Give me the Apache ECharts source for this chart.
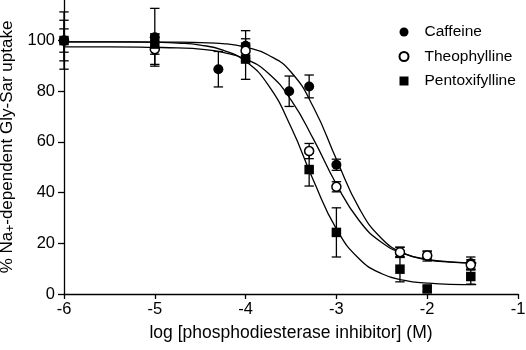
<!DOCTYPE html>
<html>
<head>
<meta charset="utf-8">
<script src="https://cdn.jsdelivr.net/npm/echarts@6/dist/echarts.min.js"></script>
<style>
  html, body { margin: 0; padding: 0; background: #fff; }
  #chart { width: 526px; height: 350px; }
</style>
</head>
<body>
<div id="chart"></div>
<script>
const FONT = '"Liberation Sans", Arial, Helvetica, sans-serif'

// measured points: [log conc, % uptake, error]
const caffeineX   = [-6, -5, -4.3, -4, -3.52, -3.3, -3, -2.3, -2, -1.52]
const caffeineY   = [100, 101.3, 88.7, 97.9, 80, 81.9, 51, 16.4, 15, 12.1]
const caffeineErr = [8, 11.4, 7, 6, 6, 4.5, 2.2, 2, 2, 2.5]

const theoX   = [-6, -5, -4, -3.3, -3, -2.3, -2, -1.52]
const theoY   = [100, 96.6, 96, 56.4, 42.3, 16.5, 15.2, 11.5]
const theoErr = [4.6, 6, 3, 3, 2, 2, 1.5, 2]

const pentoX   = [-6, -5, -4, -3.3, -3, -2.3, -2, -1.52]
const pentoY   = [100, 98.6, 92.7, 49.1, 24.3, 9.8, 2, 6.9]
const pentoErr = [11.3, 4, 8, 6.5, 9.7, 5, 1, 3]

// fitted curves
const curveX      = [-6, -5.5, -5, -4.75, -4.5, -4.25, -4, -3.75, -3.5, -3.25, -3, -2.75, -2.5, -2.25, -2, -1.75, -1.46]
const caffeineFit = [99.5, 99.5, 99.4, 99.4, 99.2, 98.8, 97.4, 94.3, 87.6, 73.5, 53.2, 33.9, 21.8, 15.9, 13.5, 12.6, 12.2]
const theoFit     = [97.5, 97.5, 97.3, 97.1, 96.6, 95.3, 92.7, 87.1, 76.6, 60.9, 43.3, 29.0, 20.3, 15.8, 13.7, 12.7, 12.3]
const pentoFit    = [99.5, 99.5, 99.3, 99.0, 98.2, 96.2, 91.8, 82.4, 65.9, 44.6, 25.7, 13.9, 8.0, 5.4, 4.3, 3.8, 3.7]

const xTicks = [-6, -5, -4, -3, -2, -1]
const yTicks = [0, 20, 40, 60, 80, 100]

const zip = (...cols) => cols[0].map((_, i) => cols.map(c => c[i]))

function errRender(params, api) {
  const x = api.value(0), y = api.value(1), e = api.value(2)
  const top = api.coord([x, y + e])
  const bot = api.coord([x, y - e])
  const w = 4.7
  const st = { stroke: '#000', lineWidth: 1.3 }
  return {
    type: 'group',
    children: [
      { type: 'line', shape: { x1: top[0], y1: top[1], x2: bot[0], y2: bot[1] }, style: st },
      { type: 'line', shape: { x1: top[0] - w, y1: top[1], x2: top[0] + w, y2: top[1] }, style: st },
      { type: 'line', shape: { x1: bot[0] - w, y1: bot[1], x2: bot[0] + w, y2: bot[1] }, style: st },
    ],
  }
}

const fitLine = (data) => ({
  type: 'line',
  data: zip(curveX, data),
  showSymbol: false,
  smooth: 0.5,
  lineStyle: { color: '#000', width: 1.3 },
  z: 1,
  silent: true,
})

const errBars = (xs, ys, es) => ({
  type: 'custom',
  data: zip(xs, ys, es),
  renderItem: errRender,
  clip: false,
  z: 2,
  silent: true,
})

const chart = echarts.init(document.getElementById('chart'), null, { renderer: 'canvas' })

chart.setOption({
  animation: false,
  backgroundColor: '#fff',
  textStyle: { fontFamily: FONT },
  grid: { left: 64, right: 8, top: 0, bottom: 56, containLabel: false, outerBoundsMode: 'none' },
  legend: {
    data: ['Caffeine', 'Theophylline', 'Pentoxifylline'],
    orient: 'vertical',
    left: 398.5,
    top: 24,
    padding: 0,
    itemWidth: 9,
    itemHeight: 9,
    itemGap: 8.5,
    textStyle: { fontFamily: FONT, fontSize: 15.5, color: '#000', padding: [0, 0, 0, 11] },
  },
  xAxis: {
    type: 'value',
    min: -6, max: -1, interval: 1,
    name: 'log [phosphodiesterase inhibitor] (M)',
    nameLocation: 'middle',
    nameGap: 30,
    nameTextStyle: { fontFamily: FONT, fontSize: 17.5, color: '#000' },
    axisLine: { onZero: false, lineStyle: { color: '#000', width: 1.3 } },
    axisTick: { length: 5, lineStyle: { color: '#000', width: 1.3 }, customValues: xTicks },
    axisLabel: { fontFamily: FONT, fontSize: 16.5, color: '#000', margin: 7, customValues: xTicks },
    splitLine: { show: false },
  },
  yAxis: {
    type: 'value',
    min: 0, max: 116,
    name: '{t|% Na}{s|+}{t|-dependent Gly-Sar uptake}',
    nameLocation: 'middle',
    nameGap: 40,
    nameTextStyle: {
      fontFamily: FONT, color: '#000',
      rich: {
        t: { fontFamily: FONT, fontSize: 17, color: '#000' },
        s: { fontFamily: FONT, fontSize: 12, color: '#000', padding: [6, 0, 0, 0] },
      },
    },
    axisLine: { show: true, lineStyle: { color: '#000', width: 1.3 } },
    axisTick: { show: true, length: 6, lineStyle: { color: '#000', width: 1.3 }, customValues: yTicks },
    axisLabel: { fontFamily: FONT, fontSize: 16.5, color: '#000', margin: 9, customValues: yTicks },
    splitLine: { show: false },
  },
  series: [
    fitLine(caffeineFit),
    fitLine(theoFit),
    fitLine(pentoFit),
    errBars(caffeineX, caffeineY, caffeineErr),
    errBars(theoX, theoY, theoErr),
    errBars(pentoX, pentoY, pentoErr),
    {
      name: 'Caffeine',
      type: 'scatter',
      data: zip(caffeineX, caffeineY),
      symbol: 'circle',
      symbolSize: 10,
      itemStyle: { color: '#000', opacity: 1 },
      z: 3,
    },
    {
      name: 'Theophylline',
      type: 'scatter',
      data: zip(theoX, theoY),
      symbol: 'circle',
      symbolSize: 9,
      itemStyle: { color: '#fff', borderColor: '#000', borderWidth: 1.5, opacity: 1 },
      z: 4,
    },
    {
      name: 'Pentoxifylline',
      type: 'scatter',
      data: zip(pentoX, pentoY),
      symbol: 'rect',
      symbolSize: 9.5,
      itemStyle: { color: '#000', opacity: 1 },
      z: 5,
    },
  ],
})
</script>
</body>
</html>
